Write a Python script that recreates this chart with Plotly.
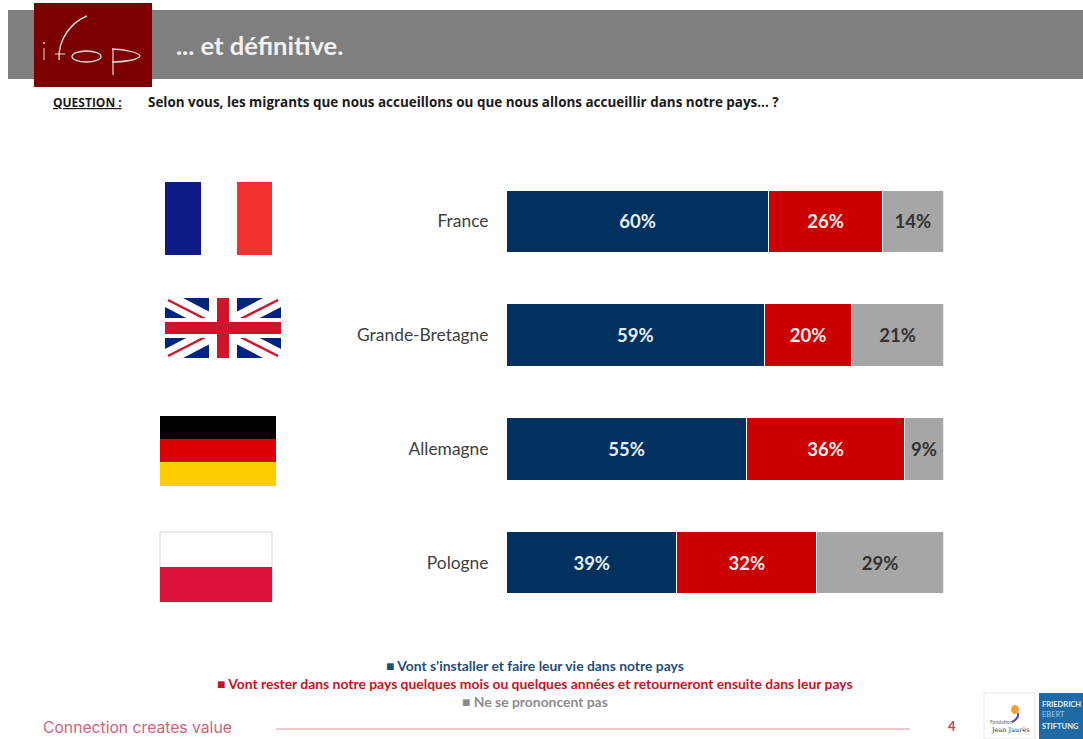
import plotly.graph_objects as go

W, H = 1083, 739

# Survey results
countries = ["France", "Grande-Bretagne", "Allemagne", "Pologne"]
settle = [60, 59, 55, 39]
return_home = [26, 20, 36, 32]
no_opinion = [14, 21, 9, 29]

series_names = [
    "Vont s’installer et faire leur vie dans notre pays",
    "Vont rester dans notre pays quelques mois ou quelques années et retourneront ensuite dans leur pays",
    "Ne se prononcent pas",
]
series_colors = ["#00315f", "#cc0000", "#a6a6a6"]
label_colors = ["#e8edf2", "#fbeeee", "#333333"]
legend_text_colors = ["#1f4e79", "#cc1122", "#8c8c8c"]

title = "... et définitive."
question_head = "QUESTION :"
question = "Selon vous, les migrants que nous accueillons ou que nous allons accueillir dans notre pays... ?"
slogan = "Connection creates value"
page_number = "4"

FONT = "Lato"


def px(x):
    return x / W


def py(y):
    return 1 - y / H


def rect(x0, y0, x1, y1, fill, line=None, lw=0):
    return dict(type="rect", xref="paper", yref="paper", layer="below",
                x0=px(x0), x1=px(x1), y0=py(y0), y1=py(y1), fillcolor=fill,
                line=dict(color=line or fill, width=lw))


def path(points, fill=None, line=None, lw=0, curve=None, closed=True):
    if curve:
        d = curve
    else:
        d = "M " + " L ".join(f"{px(a):.5f},{py(b):.5f}" for a, b in points)
        if closed:
            d += " Z"
    return dict(type="path", xref="paper", yref="paper", layer="below", path=d,
                fillcolor=fill if fill else "rgba(0,0,0,0)",
                line=dict(color=line or "rgba(0,0,0,0)", width=lw))


def cubic(p0, p1, p2, p3):
    return (f"M {px(p0[0]):.5f},{py(p0[1]):.5f} C {px(p1[0]):.5f},{py(p1[1]):.5f} "
            f"{px(p2[0]):.5f},{py(p2[1]):.5f} {px(p3[0]):.5f},{py(p3[1]):.5f}")


def line(x0, y0, x1, y1, color, width):
    return dict(type="line", xref="paper", yref="paper", layer="below",
                x0=px(x0), x1=px(x1), y0=py(y0), y1=py(y1),
                line=dict(color=color, width=width))


def note(x, y, text, size, color, anchor="left", bold=False, family=FONT):
    if bold:
        text = f"<b>{text}</b>"
    return dict(xref="paper", yref="paper", x=px(x), y=py(y), text=text, showarrow=False,
                xanchor=anchor, yanchor="middle", font=dict(family=family, size=size, color=color))


shapes = []

# Header band and logo
shapes.append(rect(8, 10, 1083, 79, "#7f7f7f"))
shapes.append(rect(34, 3, 152, 87, "#7d0000"))
logo_ink = "#e9dcdc"
shapes.append(line(44, 48, 44, 60, logo_ink, 1))
shapes.append(line(43, 43, 45, 43, logo_ink, 1.5))
shapes.append(path(None, line=logo_ink, lw=1.4, curve=cubic((87, 16), (72, 22), (58, 38), (59, 60))))
shapes.append(line(55, 54, 65, 54, logo_ink, 1))
shapes.append(dict(type="circle", xref="paper", yref="paper", layer="below",
                   x0=px(72), x1=px(101), y0=py(51), y1=py(62),
                   line=dict(color=logo_ink, width=1.3), fillcolor="rgba(0,0,0,0)"))
shapes.append(path(None, line=logo_ink, lw=1.3,
                   curve=cubic((112, 49), (128, 49), (140, 54), (140, 56))))
shapes.append(path(None, line=logo_ink, lw=1.3,
                   curve=cubic((140, 56), (138, 60), (124, 62), (112, 62))))
shapes.append(line(113, 49, 113, 75, logo_ink, 1.2))

# France
shapes.append(rect(165, 182, 201, 255, "#0d1a86"))
shapes.append(rect(237, 182, 272, 255, "#f13030"))

# United Kingdom
ux0, uy0, ux1, uy1 = 165, 298, 281, 358
shapes.append(rect(ux0, uy0, ux1, uy1, "#00247d"))
dx, dy = 18, 9
for a, b in [((ux0, uy0), (ux1, uy1)), ((ux0, uy1), (ux1, uy0))]:
    sy = 1 if b[1] > a[1] else -1
    shapes.append(path([(a[0], a[1]), (a[0] + dx, a[1]), (b[0], b[1] - sy * dy),
                        (b[0], b[1]), (b[0] - dx, b[1]), (a[0], a[1] + sy * dy)], fill="#ffffff"))
ucx, ucy = (ux0 + ux1) / 2, (uy0 + uy1) / 2
red = "#cf142b"
for (xa, ya, xb, yb) in [(ux0, uy0, ux1, uy1), (ux0, uy1, ux1, uy0)]:
    shapes.append(line(xa + 3, ya + (2 if yb > ya else -2), xb - 3, yb - (2 if yb > ya else -2), red, 2.5))
shapes.append(rect(ucx - 14, uy0, ucx + 14, uy1, "#ffffff"))
shapes.append(rect(ux0, ucy - 10, ux1, ucy + 10, "#ffffff"))
shapes.append(rect(ucx - 6, uy0, ucx + 6, uy1, red))
shapes.append(rect(ux0, ucy - 6, ux1, ucy + 6, red))

# Germany
shapes.append(rect(160, 416, 276, 439, "#000000"))
shapes.append(rect(160, 439, 276, 462, "#dd0000"))
shapes.append(rect(160, 462, 276, 486, "#ffce00"))

# Poland
shapes.append(rect(160, 532, 272, 602, "#ffffff", "#e4e4e4", 1.5))
shapes.append(rect(160, 567, 272, 602, "#dc143c"))

# Footer rule and partner logos
shapes.append(line(276, 729, 910, 729, "#dd8f9f", 1.2))
shapes.append(rect(984, 693, 1035, 739, "#ffffff", "#e8e8e8", 1))
shapes.append(rect(1039, 693, 1083, 739, "#1f6aa5"))
shapes.append(dict(type="circle", xref="paper", yref="paper", layer="below",
                   x0=px(1011), x1=px(1019), y0=py(705), y1=py(714),
                   fillcolor="#f0a030", line=dict(width=0)))
shapes.append(path(None, line="#5a4aa0", lw=2, curve=cubic((1018, 713), (1019, 717), (1016, 720), (1012, 722))))

# Text outside the plot area
annotations = [
    note(174, 45, title, 25.6, "#f2f2f2", bold=True),
    note(51, 102, f"<u>{question_head}</u>", 12, "#1a1a1a", bold=True, family="Open Sans"),
    note(146, 102, question, 13.45, "#1a1a1a", bold=True, family="Open Sans"),
    note(535, 665, f"■ {series_names[0]}", 13.9, legend_text_colors[0], "center", True),
    note(535, 683, f"■ {series_names[1]}", 13.9, legend_text_colors[1], "center", True),
    note(535, 701, f"■ {series_names[2]}", 13.9, legend_text_colors[2], "center", True),
    note(41, 727, slogan, 15.7, "#d0637b", family="Inter"),
    note(952, 726, page_number, 13, "#c0405a", "center", True),
    note(1001, 722, "Fondation", 5, "#666666", "center"),
    note(1010, 730, "Jean Jaurès", 6.5, "#333333", "center", family="DejaVu Serif"),
    note(1040, 704, "FRIEDRICH", 7.5, "#e6f0f8", bold=True),
    note(1040, 714, "EBERT", 7.5, "#9fc4e0"),
    note(1040, 726, "STIFTUNG", 7.5, "#e6f0f8", bold=True),
]

fig = go.Figure()
for name, values, color, text_color in zip(series_names,
                                           [settle, return_home, no_opinion],
                                           series_colors, label_colors):
    fig.add_trace(go.Bar(
        y=countries, x=values, name=name, orientation="h", width=0.55,
        marker=dict(color=color, line=dict(color="#ffffff", width=1)),
        text=[f"{v}%" for v in values], textposition="inside", insidetextanchor="middle",
        textangle=0, cliponaxis=False,
        textfont=dict(family=FONT, size=18.5, color=text_color, weight="bold"),
    ))

fig.update_layout(
    width=W, height=H, autosize=False, barmode="stack", showlegend=False,
    margin=dict(l=0, r=0, t=0, b=0),
    paper_bgcolor="#ffffff", plot_bgcolor="#ffffff",
    font=dict(family=FONT),
    xaxis=dict(domain=[px(506.5), px(943.5)], range=[0, 100], visible=False, fixedrange=True),
    yaxis=dict(domain=[py(619.5), py(164.5)], autorange="reversed", categoryorder="array",
               categoryarray=countries, showgrid=False, zeroline=False, showline=False,
               ticks="", ticklabelstandoff=17, anchor="x", fixedrange=True,
               tickfont=dict(family=FONT, size=17.4, color="#404040")),
    shapes=shapes, annotations=annotations,
)

fig.write_html("out.html", config=dict(displayModeBar=False))
